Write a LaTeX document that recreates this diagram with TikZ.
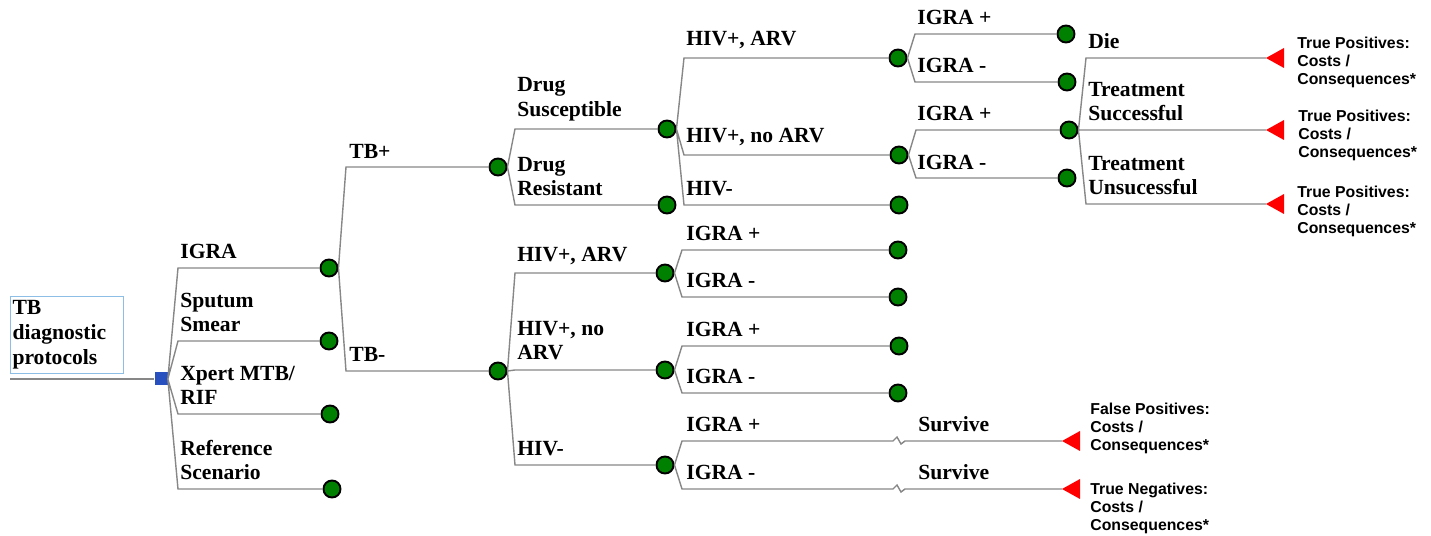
\documentclass[tikz,border=0pt]{standalone}
\usepackage{fontspec}
\setmainfont{Liberation Serif}
\newfontfamily\outfont{Liberation Sans}
\usetikzlibrary{calc}
\definecolor{chancegreen}{RGB}{0,128,0}
\definecolor{decisionblue}{RGB}{40,80,190}
\definecolor{boxblue}{RGB}{140,190,230}
\definecolor{branchgray}{RGB}{135,135,135}

\begin{document}
\begin{tikzpicture}[x=0.02cm, y=-0.02cm,
    chance/.style={circle, draw=black, line width=1.1pt, fill=chancegreen, inner sep=0pt, minimum size=0.34cm},
    decision/.style={rectangle, fill=decisionblue, inner sep=0pt, minimum size=0.26cm},
    wire/.style={draw=branchgray, line width=0.8pt},
    branch/.style={wire, to path={(\tikztostart.east) -- ($(\tikztostart|-\tikztotarget)+(17,0)$) -- (\tikztotarget) \tikztonodes}},
    terminal/.style={fill=red},
    lbl/.style={anchor=south west, inner sep=0pt, align=left, font=\bfseries\fontsize{12.3}{13.8}\selectfont},
    outlbl/.style={anchor=west, inner sep=0pt, align=left, font=\outfont\bfseries\fontsize{9}{10.2}\selectfont},
    titlebox/.style={draw=boxblue, line width=0.6pt, anchor=north west, inner xsep=0.04cm, inner ysep=0pt,
        text width=2.18cm, minimum height=1.54cm, align=left, font=\bfseries\fontsize{12.3}{14.2}\selectfont}]
    \useasboundingbox (0,0) rectangle (1431,536);

    % decision and chance nodes
    \node[titlebox] (title) at (10,296) {TB\\diagnostic\\protocols};
    \coordinate (start) at (10,379);
    \node[decision] (root) at (161,379) {};
    \node[chance] (igra) at (329,268) {};
    \node[chance] (smear) at (329,341) {};
    \node[chance] (xpert) at (330,414) {};
    \node[chance] (ref) at (332,489) {};
    \node[chance] (tbpos) at (498,167) {};
    \node[chance] (tbneg) at (498,371) {};
    \node[chance] (dsus) at (667,129) {};
    \node[chance] (dres) at (667,205) {};
    \node[chance] (sArv) at (898,58) {};
    \node[chance] (sNoArv) at (899,155) {};
    \node[chance] (sNeg) at (899,205) {};
    \node[chance] (sArvIp) at (1066,34) {};
    \node[chance] (sArvIn) at (1067,82) {};
    \node[chance] (sNoIp) at (1069,130) {};
    \node[chance] (sNoIn) at (1067,178) {};
    \node[chance] (nArv) at (665,273) {};
    \node[chance] (nNoArv) at (665,370) {};
    \node[chance] (nNeg) at (665,465) {};
    \node[chance] (nArvIp) at (898,250) {};
    \node[chance] (nArvIn) at (898,297) {};
    \node[chance] (nNoIp) at (899,346) {};
    \node[chance] (nNoIn) at (898,393) {};

    % terminal nodes
    \coordinate (tp1) at (1266,58);
    \coordinate (tp2) at (1266,130);
    \coordinate (tp3) at (1266,204);
    \coordinate (fp) at (1062,441);
    \coordinate (tn) at (1062,489);
    \foreach \t in {tp1,tp2,tp3,fp,tn}
        \fill[terminal] (\t) -- ++(18,-10) -- ++(0,20) -- cycle;

    % branches
    \draw[wire] (start) -- (root);
    \draw[branch] (root) to (igra) (root) to (smear) (root) to (xpert) (root) to (ref);
    \draw[branch] (igra) to (tbpos) (igra) to (tbneg);
    \draw[branch] (tbpos) to (dsus) (tbpos) to (dres);
    \draw[branch] (dsus) to (sArv) (dsus) to (sNoArv) (dsus) to (sNeg);
    \draw[branch] (sArv) to (sArvIp) (sArv) to (sArvIn);
    \draw[branch] (sNoArv) to (sNoIp) (sNoArv) to (sNoIn);
    \draw[branch] (sNoIp) to (tp1) (sNoIp) to (tp2) (sNoIp) to (tp3);
    \draw[branch] (tbneg) to (nArv) (tbneg) to (nNoArv) (tbneg) to (nNeg);
    \draw[branch] (nArv) to (nArvIp) (nArv) to (nArvIn);
    \draw[branch] (nNoArv) to (nNoIp) (nNoArv) to (nNoIn);
    % broken lines
    \draw[wire] (nNeg.east) -- ($(nNeg|-fp)+(17,0)$) -- (893,441) -- ++(4,-4) -- ++(4,7) -- ++(4,-3) -- (fp);
    \draw[wire] (nNeg.east) -- ($(nNeg|-tn)+(17,0)$) -- (893,489) -- ++(4,-4) -- ++(4,7) -- ++(4,-3) -- (tn);

    % branch labels
    \node[lbl] (lIgra) at (180,259) {IGRA};
    \node[lbl] (lSmear) at (180,332) {Sputum\\Smear};
    \node[lbl] (lXpert) at (180,405) {Xpert MTB/\\RIF};
    \node[lbl] (lRef) at (180,480) {Reference\\Scenario};
    \node[lbl] (lTbPos) at (349,159) {TB+};
    \node[lbl] (lTbNeg) at (349,362) {TB-};
    \node[lbl] (lDsus) at (517,121) {Drug\\Susceptible};
    \node[lbl] (lDres) at (517,196) {Drug\\Resistant};
    \node[lbl] (lSArv) at (686,49) {HIV+, ARV};
    \node[lbl] (lSNoArv) at (686,146) {HIV+, no ARV};
    \node[lbl] (lSNeg) at (686,196) {HIV-};
    \node[lbl] (lSArvIp) at (917,25) {IGRA +};
    \node[lbl] (lSArvIn) at (917,73) {IGRA -};
    \node[lbl] (lSNoIp) at (917,121) {IGRA +};
    \node[lbl] (lSNoIn) at (917,170) {IGRA -};
    \node[lbl] (lDie) at (1088,49) {Die};
    \node[lbl] (lSucc) at (1088,121) {Treatment\\Successful};
    \node[lbl] (lUnsucc) at (1088,195) {Treatment\\Unsucessful};
    \node[lbl] (lNArv) at (517,265) {HIV+, ARV};
    \node[lbl] (lNNoArv) at (517,360) {HIV+, no\\ARV};
    \node[lbl] (lNNeg) at (517,456) {HIV-};
    \node[lbl] (lNArvIp) at (686,241) {IGRA +};
    \node[lbl] (lNArvIn) at (686,288) {IGRA -};
    \node[lbl] (lNNoIp) at (686,337) {IGRA +};
    \node[lbl] (lNNoIn) at (686,384) {IGRA -};
    \node[lbl] (lNNegIp) at (686,432) {IGRA +};
    \node[lbl] (lNNegIn) at (686,480) {IGRA -};
    \node[lbl] (lSurv1) at (918,432) {Survive};
    \node[lbl] (lSurv2) at (918,480) {Survive};

    % outcome labels
    \node[outlbl] (oTp1) at (1297,62) {True Positives:\\Costs /\\Consequences*};
    \node[outlbl] (oTp2) at (1298,135) {True Positives:\\Costs /\\Consequences*};
    \node[outlbl] (oTp3) at (1297,211) {True Positives:\\Costs /\\Consequences*};
    \node[outlbl] (oFp) at (1090,428) {False Positives:\\Costs /\\Consequences*};
    \node[outlbl] (oTn) at (1090,508) {True Negatives:\\Costs /\\Consequences*};
\end{tikzpicture}
\end{document}
